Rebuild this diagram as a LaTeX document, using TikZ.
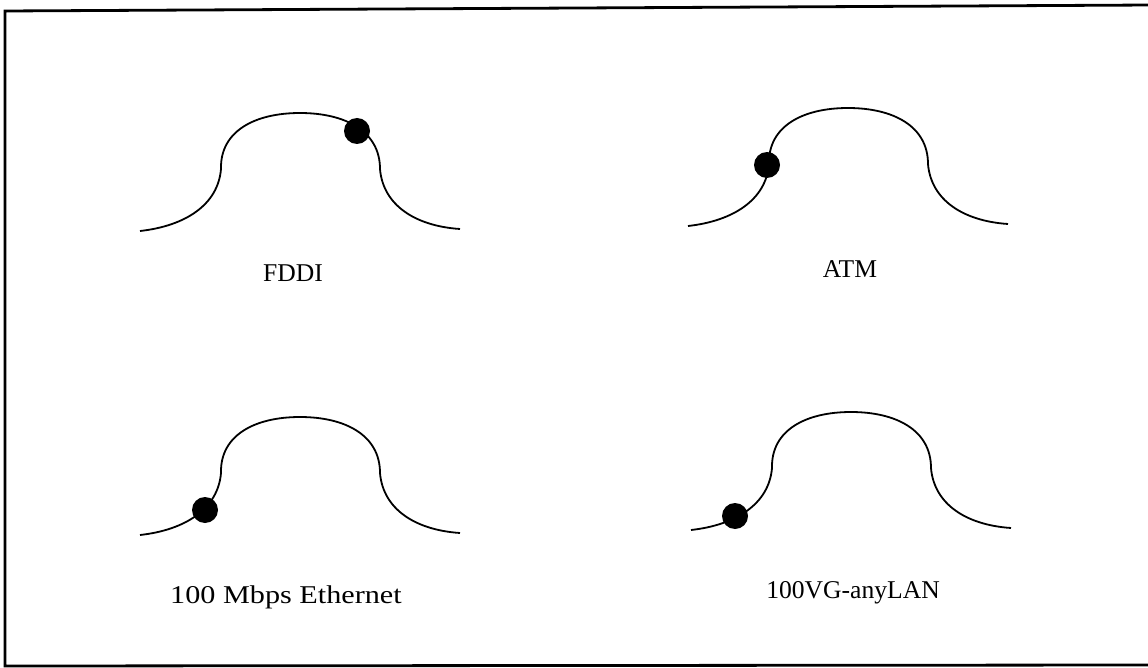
\documentclass[tikz,border=0pt]{standalone}
\usepackage{fontspec}
\setmainfont{Liberation Serif}
\begin{document}
\begin{tikzpicture}[x=1pt,y=-1pt,
  curve/.style={line width=1.8pt},
  frameline/.style={line width=2.8pt},
  dot/.style={fill=black},
  lbl/.style={anchor=base,inner sep=0pt,font=\fontsize{25.6}{30}\selectfont},
  bump/.pic={
    \draw[curve] (-160,118) .. controls (-115,113) and (-82,92) .. (-79,56)
      .. controls (-80,18) and (-45,0) .. (0,0)
      .. controls (45,0) and (80,18) .. (80,56)
      .. controls (83,92) and (115,113) .. (160,116);
  }]
\useasboundingbox (0,0) rectangle (1148,668);
% frame (right side lies outside the picture)
\coordinate (tl) at (5,11);
\coordinate (tr) at (1152,5);
\coordinate (bl) at (5,666);
\coordinate (br) at (1152,665);
\draw[frameline] (tr) -- (tl) -- (bl) -- (br);
% curves
\pic at (300,113) {bump};
\pic at (848,108) {bump};
\pic at (300,417) {bump};
\pic at (851,412) {bump};
% dots
\fill[dot] (357,131) circle (13);
\fill[dot] (767,165) circle (13);
\fill[dot] (205,510) circle (13);
\fill[dot] (735,516) circle (13);
% labels
\node[lbl] (fddi) at (293,282) {FDDI};
\node[lbl] (atm) at (850,277) {ATM};
\node[lbl] (eth) at (286,603) {\scalebox{1.18}[1]{100 Mbps Ethernet}};
\node[lbl] (vg) at (853,598) {100VG-anyLAN};
\end{tikzpicture}
\end{document}
